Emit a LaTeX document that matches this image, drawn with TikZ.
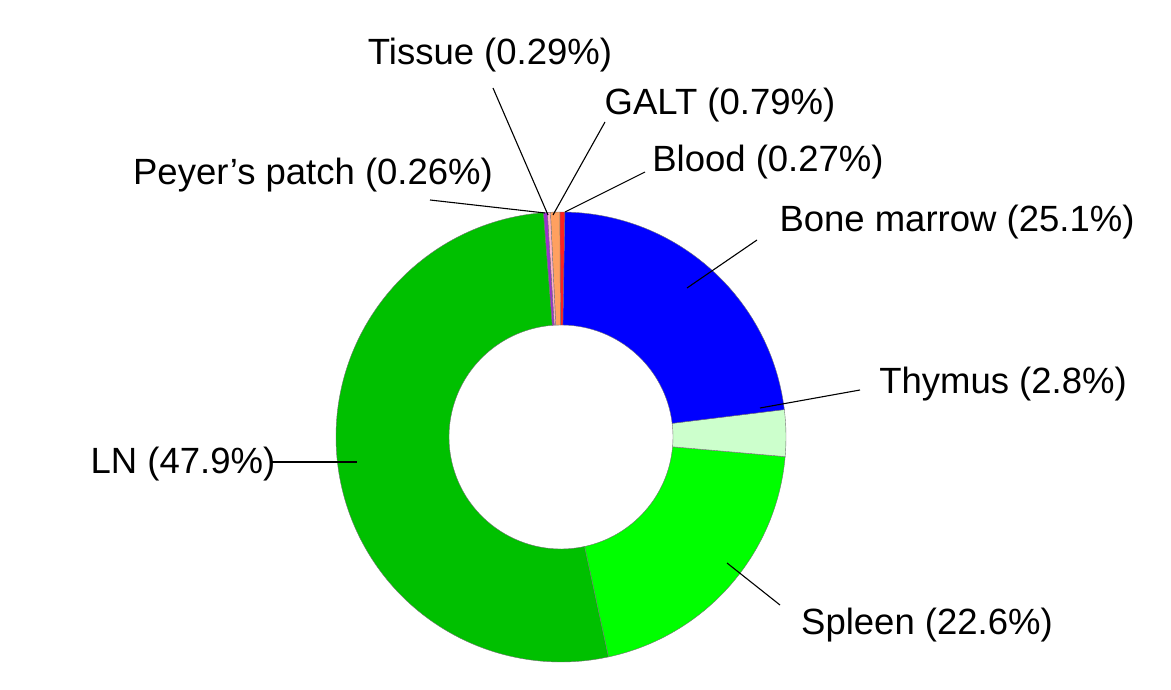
\documentclass[tikz,border=0pt]{standalone}
\usepackage{fontspec}
\setmainfont{Liberation Sans}
\usetikzlibrary{calc}
\begin{document}
\begin{tikzpicture}[x=1pt,y=1pt,
  lbl/.style={font=\fontsize{36.5}{42}\selectfont, inner sep=0pt},
  lead/.style={draw=black, line width=1.1pt}]
\useasboundingbox (0,0) rectangle (1171,689);
\definecolor{cbm}{HTML}{0000FF}
\definecolor{cth}{HTML}{CCFFCC}
\definecolor{csp}{HTML}{00FF00}
\definecolor{cln}{HTML}{00C000}
\definecolor{cpp}{HTML}{9933CC}
\definecolor{cti}{HTML}{FFB0C8}
\definecolor{cga}{HTML}{FFA060}
\definecolor{cbl}{HTML}{FF2020}
\coordinate (C) at (561,252);
\foreach \a/\b/\c in {89/90.3/cbl, 90.3/92.7/cga, 92.7/93.5/cti, 93.5/94.5/cpp, 94.5/282.2/cln, -77.8/-5/csp, -5/7/cth, 7/89/cbm}{
  \filldraw[fill=\c, draw=black!55, line width=0.4pt] ($(C)+(\a:225)$) arc[start angle=\a, end angle=\b, radius=225] -- ($(C)+(\b:112)$) arc[start angle=\b, end angle=\a, radius=112] -- cycle;
}
\node[lbl] (ti) at (490,634) {Tissue (0.29\%)};
\node[lbl] (ga) at (720,584) {GALT (0.79\%)};
\node[lbl] (bl) at (768,527) {Blood (0.27\%)};
\node[lbl] (pp) at (313,514) {Peyer’s patch (0.26\%)};
\node[lbl] (bm) at (957,467) {Bone marrow (25.1\%)};
\node[lbl] (th) at (1003,305) {Thymus (2.8\%)};
\node[lbl] (ln) at (183,225) {LN (47.9\%)};
\node[lbl] (sp) at (927,64) {Spleen (22.6\%)};
\coordinate (tiA) at (493,601); \coordinate (tiB) at (548,474);
\coordinate (gaA) at (605,567); \coordinate (gaB) at (553,474);
\coordinate (blA) at (645,517); \coordinate (blB) at (565,477);
\coordinate (ppA) at (430,489); \coordinate (ppB) at (545,476);
\coordinate (bmA) at (757,449); \coordinate (bmB) at (687,401);
\coordinate (thA) at (860,299); \coordinate (thB) at (760,281);
\coordinate (lnA) at (270,227); \coordinate (lnB) at (357,227);
\coordinate (spA) at (780,84); \coordinate (spB) at (727,126);
\foreach \p in {ti,ga,bl,pp,bm,th,ln,sp}{\draw[lead] (\p A) -- (\p B);}
\end{tikzpicture}
\end{document}
